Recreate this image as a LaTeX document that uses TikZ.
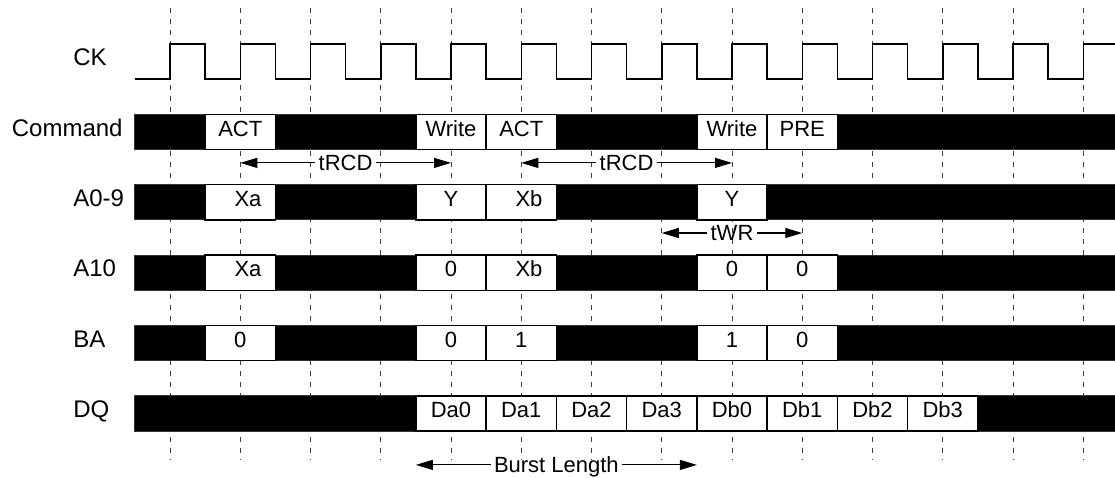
\documentclass[tikz,border=0pt]{standalone}
\usepackage{fontspec}
\setmainfont{Liberation Sans}
\usetikzlibrary{arrows.meta}

\tikzset{
	grid line/.style={black!75, line width=0.5pt, dash pattern=on 2.5pt off 3pt},
	bus/.style={fill=black, draw=black!80, line width=0.5pt},
	valid/.style={fill=white, draw=black, line width=0.65pt},
	sig label/.style={anchor=base west, font=\fontsize{12}{14}\selectfont, inner sep=0pt},
	val label/.style={anchor=base, font=\fontsize{11}{13}\selectfont, inner sep=0pt},
	timing/.style={-{Triangle[length=8.5pt,width=5pt]}, line width=0.55pt},
	timing label/.style={font=\fontsize{11}{13}\selectfont, text height=7.9pt, text depth=0pt, inner sep=1.5pt},
}

\begin{document}
\begin{tikzpicture}[x=35.125pt, y=-35.2pt]
			\useasboundingbox (-2.42,-0.874) rectangle (13.452,5.902);
			\foreach \k in {0,...,13}
				\draw[grid line] (\k,-0.76)--(\k,5.66);
			\draw[line width=0.75pt] (-0.5,0.25)--(0,0.25)
				\foreach \k in {0,...,12} {--(\k,-0.25)--(\k+0.5,-0.25)--(\k+0.5,0.25)--(\k+1,0.25)}
				--(13,-0.25)--(13.452,-0.25);
			\foreach \r in {1,...,5}
				\draw[bus] (-0.5,\r-0.25) rectangle (13.452,\r+0.25);
			\node[sig label] (ck) at (-1.381,0.06) {CK};
			\node[sig label, anchor=base east] (command) at (-0.669,1.06) {Command};
			\node[sig label] (addr) at (-1.381,2.06) {A0-9};
			\node[sig label] (aten) at (-1.381,3.06) {A10};
			\node[sig label] (ba) at (-1.381,4.06) {BA};
			\node[sig label] (dq) at (-1.381,5.06) {DQ};
			\foreach \k/\txt in {1/ACT,4/Write,5/ACT,8/Write,9/PRE} {
				\draw[valid] (\k-0.5,0.75) rectangle (\k+0.5,1.25);
				\node[val label] (cmd\k) at (\k,1.06) {\txt};
			}
			\foreach \k/\txt/\dx in {1/Xa/0.11,4/Y/0,5/Xb/0.11,8/Y/0} {
				\draw[valid] (\k-0.5,1.75) rectangle (\k+0.5,2.25);
				\node[val label] (addr\k) at (\k+\dx,2.06) {\txt};
			}
			\foreach \k/\txt/\dx in {1/Xa/0.11,4/0/0,5/Xb/0.11,8/0/0,9/0/0} {
				\draw[valid] (\k-0.5,2.75) rectangle (\k+0.5,3.25);
				\node[val label] (aten\k) at (\k+\dx,3.06) {\txt};
			}
			\foreach \k/\txt in {1/0,4/0,5/1,8/1,9/0} {
				\draw[valid] (\k-0.5,3.75) rectangle (\k+0.5,4.25);
				\node[val label] (ba\k) at (\k,4.06) {\txt};
			}
			\foreach \k/\txt in {4/Da0,5/Da1,6/Da2,7/Da3,8/Db0,9/Db1,10/Db2,11/Db3} {
				\draw[valid] (\k-0.5,4.75) rectangle (\k+0.5,5.25);
				\node[val label] (dq\k) at (\k,5.06) {\txt};
			}
			\coordinate (trcda-l) at (1,1.44);
			\coordinate (trcda-r) at (4,1.44);
			\node[timing label] (trcda) at (2.5,1.44) {tRCD};
			\draw[timing] (trcda)--(trcda-l);
			\draw[timing] (trcda)--(trcda-r);
			\coordinate (trcdb-l) at (5,1.44);
			\coordinate (trcdb-r) at (8,1.44);
			\node[timing label] (trcdb) at (6.5,1.44) {tRCD};
			\draw[timing] (trcdb)--(trcdb-l);
			\draw[timing] (trcdb)--(trcdb-r);
			\coordinate (twr-l) at (7,2.436);
			\coordinate (twr-r) at (9,2.436);
			\node[timing label] (twr) at (8,2.436) {tWR};
			\draw[timing] (twr)--(twr-l);
			\draw[timing] (twr)--(twr-r);
			\coordinate (burst-l) at (3.5,5.73);
			\coordinate (burst-r) at (7.5,5.73);
			\node[timing label] (burst) at (5.5,5.73) {Burst Length};
			\draw[timing] (burst)--(burst-l);
			\draw[timing] (burst)--(burst-r);
\end{tikzpicture}
\end{document}
